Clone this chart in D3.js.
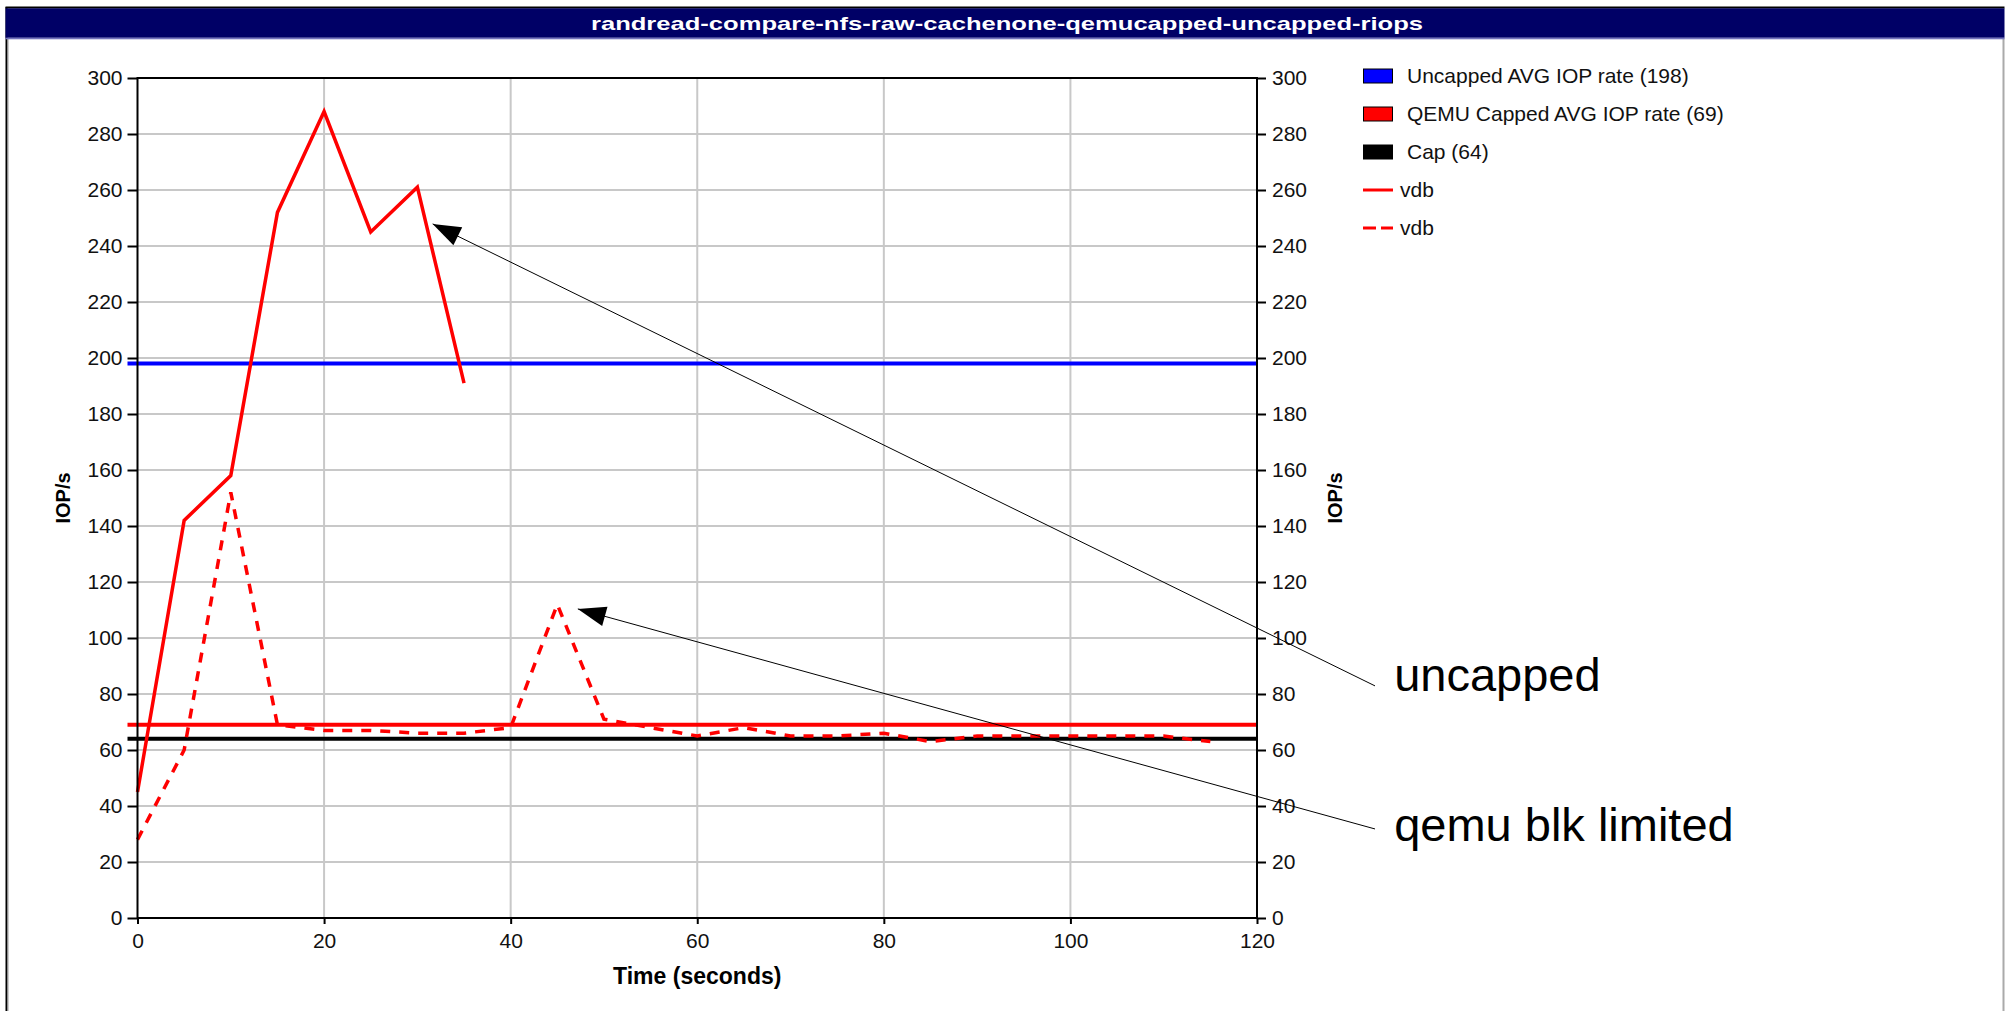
<!DOCTYPE html>
<html>
<head>
<meta charset="utf-8">
<script src="https://cdn.jsdelivr.net/npm/d3@7"></script>
<style>
  body { margin: 0; background: #fff; }
  svg { display: block; font-family: "Liberation Sans", Arial, sans-serif; }
</style>
</head>
<body>
<svg id="chart" width="2005" height="1011"></svg>
<script>
// chart data
var chartTitle = "randread-compare-nfs-raw-cachenone-qemucapped-uncapped-riops";
var xTicks = [0, 20, 40, 60, 80, 100, 120];
var yTicks = [0, 20, 40, 60, 80, 100, 120, 140, 160, 180, 200, 220, 240, 260, 280, 300];

var timeUncapped = [0, 5, 10, 15, 20, 25, 30, 35];
var iopsUncapped = [45, 142, 158, 252, 288, 245, 261, 191];

var timeCapped = [0, 5, 10, 15, 20, 25, 30, 35, 40, 45, 50, 55, 60, 65, 70, 75, 80, 85, 90, 95, 100, 105, 110, 115];
var iopsCapped = [28, 60, 152, 69, 67, 67, 66, 66, 68, 112, 71, 68, 65, 68, 65, 65, 66, 63, 65, 65, 65, 65, 65, 63];

var refNames = ["Uncapped AVG IOP rate (198)", "QEMU Capped AVG IOP rate (69)", "Cap (64)"];
var refValues = [198, 69, 64];
var refColors = ["#0000ff", "#ff0000", "#000000"];

var seriesNames = ["vdb", "vdb"];
var seriesDash = [null, "10,9"];

// callouts, in data units
var callouts = [
  { text: "uncapped", tx: 31.64, ty: 247.9, fx: 132.65, fy: 82.9, lx: 134.7, ly: 81.0 },
  { text: "qemu blk limited", tx: 47.2, ty: 110.4, fx: 132.65, fy: 31.8, lx: 134.7, ly: 27.4 }
];

var svg = d3.select("#chart");

var x = d3.scaleLinear().domain([0, 120]).range([137.5, 1257]);
var y = d3.scaleLinear().domain([0, 300]).range([918, 78]);

// frame round the whole picture
svg.append("rect").attr("x", 0).attr("y", 0).attr("width", 2005).attr("height", 1011).attr("fill", "#fff");
svg.append("line").attr("x1", 6.5).attr("x2", 6.5).attr("y1", 7).attr("y2", 1011)
  .attr("stroke", "#000").attr("stroke-width", 2);
svg.append("line").attr("x1", 8).attr("x2", 8).attr("y1", 39).attr("y2", 1011)
  .attr("stroke", "#999").attr("stroke-width", 1);
svg.append("line").attr("x1", 2003.5).attr("x2", 2003.5).attr("y1", 38).attr("y2", 1011)
  .attr("stroke", "#aaa").attr("stroke-width", 2);

// title bar
svg.append("rect").attr("x", 5.5).attr("y", 6.5).attr("width", 1999).attr("height", 2).attr("fill", "#000");
svg.append("rect").attr("x", 5.5).attr("y", 8.3).attr("width", 1999).attr("height", 29.5).attr("fill", "#000066");
svg.append("rect").attr("x", 5.5).attr("y", 37.7).attr("width", 1999).attr("height", 1.6).attr("fill", "#7373bd");
svg.append("text")
  .attr("x", 1007).attr("y", 30)
  .attr("text-anchor", "middle")
  .attr("fill", "#fff")
  .attr("font-size", 19)
  .attr("font-weight", "bold")
  .attr("textLength", 832)
  .attr("lengthAdjust", "spacingAndGlyphs")
  .text(chartTitle);

// grid
var grid = svg.append("g").attr("class", "grid");
grid.selectAll("line.h")
  .data(yTicks.filter(function (d) { return d > 0 && d < 300; }))
  .enter().append("line")
  .attr("x1", x(0)).attr("x2", x(120))
  .attr("y1", function (d) { return y(d); })
  .attr("y2", function (d) { return y(d); })
  .attr("stroke", "#c8c8c8").attr("stroke-width", 2);
grid.selectAll("line.v")
  .data(xTicks.filter(function (d) { return d > 0 && d < 120; }))
  .enter().append("line")
  .attr("y1", y(0)).attr("y2", y(300))
  .attr("x1", function (d) { return x(d); })
  .attr("x2", function (d) { return x(d); })
  .attr("stroke", "#c8c8c8").attr("stroke-width", 2);

// axes
function styleAxis(g) {
  g.select(".domain").remove();
  g.selectAll(".tick line").attr("stroke", "#000").attr("stroke-width", 2);
  g.selectAll(".tick text").attr("fill", "#111").attr("font-size", 21)
    .attr("font-family", "Liberation Sans, Arial, sans-serif");
}
svg.append("g").attr("transform", "translate(" + x(0) + ",0)")
  .call(d3.axisLeft(y).tickValues(yTicks).tickSize(10).tickPadding(5))
  .call(styleAxis);
svg.append("g").attr("transform", "translate(" + x(120) + ",0)")
  .call(d3.axisRight(y).tickValues(yTicks).tickSize(9).tickPadding(6))
  .call(styleAxis);
svg.append("g").attr("transform", "translate(0," + y(0) + ")")
  .call(d3.axisBottom(x).tickValues(xTicks).tickSize(6).tickPadding(9))
  .call(styleAxis);

// reference lines (average rates and cap)
svg.append("g").selectAll("line")
  .data(refValues)
  .enter().append("line")
  .attr("x1", x(0) - 10).attr("x2", x(120))
  .attr("y1", function (d) { return y(d); })
  .attr("y2", function (d) { return y(d); })
  .attr("stroke", function (d, i) { return refColors[i]; })
  .attr("stroke-width", 4);

// series
var line = d3.line()
  .x(function (d) { return x(d[0]); })
  .y(function (d) { return y(d[1]); });

var series = [d3.zip(timeUncapped, iopsUncapped), d3.zip(timeCapped, iopsCapped)];
svg.append("g").selectAll("path")
  .data(series)
  .enter().append("path")
  .attr("d", line)
  .attr("fill", "none")
  .attr("stroke", "#ff0000")
  .attr("stroke-width", 3.5)
  .attr("stroke-dasharray", function (d, i) { return seriesDash[i]; });

// plot frame
svg.append("rect")
  .attr("x", x(0)).attr("y", y(300))
  .attr("width", x(120) - x(0)).attr("height", y(0) - y(300))
  .attr("fill", "none").attr("stroke", "#000").attr("stroke-width", 2);

// axis titles
svg.append("text")
  .attr("transform", "translate(" + 70 + "," + ((y(0) + y(300)) / 2) + ") rotate(-90)")
  .attr("text-anchor", "middle").attr("font-size", 20).attr("font-weight", "bold")
  .text("IOP/s");
svg.append("text")
  .attr("transform", "translate(" + 1342 + "," + ((y(0) + y(300)) / 2) + ") rotate(-90)")
  .attr("text-anchor", "middle").attr("font-size", 20).attr("font-weight", "bold")
  .text("IOP/s");
svg.append("text")
  .attr("x", (x(0) + x(120)) / 2).attr("y", 984)
  .attr("text-anchor", "middle").attr("font-size", 23).attr("font-weight", "bold")
  .text("Time (seconds)");

// legend
var legend = svg.append("g").attr("transform", "translate(1363,76)");
var legendRows = refNames.map(function (n, i) { return { name: n, kind: "box", color: refColors[i] }; })
  .concat(seriesNames.map(function (n, i) { return { name: n, kind: "line", dash: seriesDash[i] }; }));

var row = legend.selectAll("g")
  .data(legendRows)
  .enter().append("g")
  .attr("transform", function (d, i) { return "translate(0," + (i * 38) + ")"; });

row.filter(function (d) { return d.kind == "box"; })
  .append("rect")
  .attr("x", 0.5).attr("y", -7).attr("width", 29).attr("height", 14)
  .attr("fill", function (d) { return d.color; })
  .attr("stroke", "#000").attr("stroke-width", 1);

row.filter(function (d) { return d.kind == "line"; })
  .append("line")
  .attr("x1", 0).attr("x2", 30).attr("y1", 0).attr("y2", 0)
  .attr("stroke", "#ff0000").attr("stroke-width", 3)
  .attr("stroke-dasharray", function (d) { return d.dash ? "13,5" : null; });

row.append("text")
  .attr("x", function (d) { return d.kind == "box" ? 44 : 37; })
  .attr("y", 7)
  .attr("font-size", 21)
  .attr("fill", "#111")
  .text(function (d) { return d.name; });

// callout arrows and labels
var notes = svg.append("g").selectAll("g")
  .data(callouts)
  .enter().append("g");

notes.append("line")
  .attr("x1", function (d) { return x(d.fx); })
  .attr("y1", function (d) { return y(d.fy); })
  .attr("x2", function (d) { return x(d.tx); })
  .attr("y2", function (d) { return y(d.ty); })
  .attr("stroke", "#000").attr("stroke-width", 1);

notes.append("polygon")
  .attr("points", function (d) {
    var tx = x(d.tx), ty = y(d.ty);
    var dx = x(d.fx) - tx, dy = y(d.fy) - ty;
    var len = Math.sqrt(dx * dx + dy * dy);
    var ux = dx / len, uy = dy / len;
    var bx = tx + ux * 28, by = ty + uy * 28;
    return [[tx, ty], [bx - uy * 10, by + ux * 10], [bx + uy * 10, by - ux * 10]]
      .map(function (p) { return p.join(","); }).join(" ");
  })
  .attr("fill", "#000");

notes.append("text")
  .attr("x", function (d) { return x(d.lx); })
  .attr("y", function (d) { return y(d.ly); })
  .attr("font-size", 47)
  .attr("fill", "#000")
  .text(function (d) { return d.text; });
</script>
</body>
</html>
